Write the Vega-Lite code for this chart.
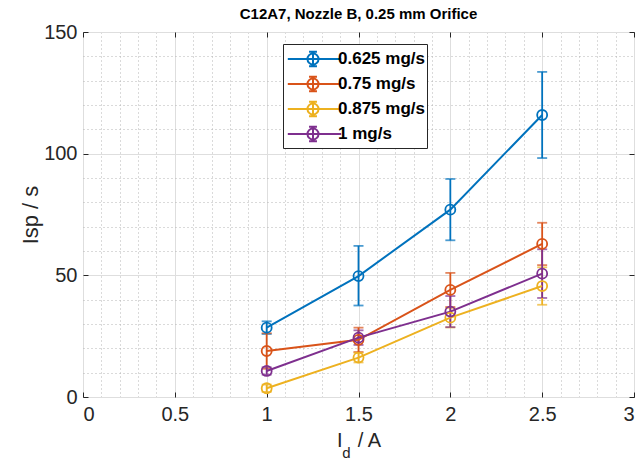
{
  "$schema": "https://vega.github.io/schema/vega-lite/v6.json",
  "width": 551,
  "height": 365,
  "autosize": {"type": "none"},
  "padding": {"left": 83, "top": 32, "right": 10, "bottom": 66},
  "background": "white",
  "title": {
    "text": "C12A7, Nozzle B, 0.25 mm Orifice",
    "font": "Liberation Sans",
    "fontSize": 15,
    "fontWeight": "bold",
    "color": "black",
    "anchor": "middle",
    "offset": 0
  },
  "config": {
    "view": {"stroke": "#262626", "strokeWidth": 1},
    "font": "Liberation Sans"
  },
  "data": {
    "values": [
      {"I": 1.0, "rate": "0.625 mg/s", "isp": 28.5, "lo": 25.9, "hi": 31.1},
      {"I": 1.5, "rate": "0.625 mg/s", "isp": 49.7, "lo": 37.6, "hi": 62.1},
      {"I": 2.0, "rate": "0.625 mg/s", "isp": 77.0, "lo": 64.4, "hi": 89.6},
      {"I": 2.5, "rate": "0.625 mg/s", "isp": 115.9, "lo": 98.2, "hi": 133.6},
      {"I": 1.0, "rate": "0.75 mg/s", "isp": 18.9, "lo": 11.6, "hi": 26.2},
      {"I": 1.5, "rate": "0.75 mg/s", "isp": 23.5, "lo": 18.5, "hi": 28.5},
      {"I": 2.0, "rate": "0.75 mg/s", "isp": 44.0, "lo": 37.0, "hi": 51.0},
      {"I": 2.5, "rate": "0.75 mg/s", "isp": 62.9, "lo": 54.2, "hi": 71.6},
      {"I": 1.0, "rate": "0.875 mg/s", "isp": 3.6, "lo": 2.1, "hi": 5.1},
      {"I": 1.5, "rate": "0.875 mg/s", "isp": 16.2, "lo": 14.2, "hi": 18.2},
      {"I": 2.0, "rate": "0.875 mg/s", "isp": 32.6, "lo": 28.6, "hi": 36.6},
      {"I": 2.5, "rate": "0.875 mg/s", "isp": 45.6, "lo": 37.9, "hi": 53.3},
      {"I": 1.0, "rate": "1 mg/s", "isp": 10.7, "lo": 9.2, "hi": 12.2},
      {"I": 1.5, "rate": "1 mg/s", "isp": 24.4, "lo": 21.4, "hi": 27.4},
      {"I": 2.0, "rate": "1 mg/s", "isp": 35.1, "lo": 28.7, "hi": 41.5},
      {"I": 2.5, "rate": "1 mg/s", "isp": 50.7, "lo": 40.7, "hi": 60.7}
    ]
  },
  "layer": [
    {
      "description": "minor grid",
      "mark": {"type": "point", "opacity": 0},
      "encoding": {
        "x": {
          "field": "I", "type": "quantitative",
          "scale": {"domain": [0, 3], "nice": false, "zero": false},
          "axis": {
            "orient": "bottom",
            "values": [0.1, 0.2, 0.3, 0.4, 0.6, 0.7, 0.8, 0.9, 1.1, 1.2, 1.3, 1.4, 1.6, 1.7, 1.8, 1.9, 2.1, 2.2, 2.3, 2.4, 2.6, 2.7, 2.8, 2.9],
            "grid": true, "gridColor": "#b5b5b5", "gridDash": [1, 3], "gridWidth": 1,
            "domain": false, "ticks": false, "labels": false, "title": null
          }
        },
        "y": {
          "field": "isp", "type": "quantitative",
          "scale": {"domain": [0, 150], "nice": false},
          "axis": {
            "orient": "left",
            "values": [10, 20, 30, 40, 60, 70, 80, 90, 110, 120, 130, 140],
            "grid": true, "gridColor": "#b5b5b5", "gridDash": [1, 3], "gridWidth": 1,
            "domain": false, "ticks": false, "labels": false, "title": null
          }
        }
      }
    },
    {
      "description": "major grid, ticks and labels",
      "mark": {"type": "point", "opacity": 0},
      "encoding": {
        "x": {
          "field": "I", "type": "quantitative",
          "axis": {
            "orient": "bottom",
            "values": [0, 0.5, 1, 1.5, 2, 2.5, 3],
            "format": "~g",
            "grid": true, "gridColor": "#dedede", "gridWidth": 1,
            "domain": false,
            "ticks": true, "tickSize": -5, "tickColor": "#262626", "tickWidth": 1,
            "labelFontSize": 20, "labelColor": "#262626", "labelPadding": 12,
            "title": "I\u2009\u00a0 / A", "titleFontSize": 20, "titleFontWeight": "normal",
            "titleColor": "#262626", "titlePadding": 6
          }
        },
        "y": {
          "field": "isp", "type": "quantitative",
          "axis": {
            "orient": "left",
            "values": [0, 50, 100, 150],
            "grid": true, "gridColor": "#dedede", "gridWidth": 1,
            "domain": false,
            "ticks": true, "tickSize": -5, "tickColor": "#262626", "tickWidth": 1,
            "labelFontSize": 20, "labelColor": "#262626", "labelPadding": 11,
            "title": "Isp / s", "titleFontSize": 22, "titleFontWeight": "normal",
            "titleColor": "#262626", "titlePadding": 1
          }
        }
      }
    },
    {
      "description": "ticks on the top and right edges of the box",
      "mark": {"type": "point", "opacity": 0},
      "encoding": {
        "x": {
          "field": "I", "type": "quantitative",
          "axis": {
            "orient": "top", "values": [0, 0.5, 1, 1.5, 2, 2.5, 3],
            "grid": false, "domain": false, "labels": false, "title": null,
            "ticks": true, "tickSize": -5, "tickColor": "#262626", "tickWidth": 1
          }
        },
        "y": {
          "field": "isp", "type": "quantitative",
          "axis": {
            "orient": "right", "values": [0, 50, 100, 150],
            "grid": false, "domain": false, "labels": false, "title": null,
            "ticks": true, "tickSize": -5, "tickColor": "#262626", "tickWidth": 1
          }
        }
      }
    },
    {
      "description": "subscript of the x title",
      "mark": {"type": "point", "opacity": 0},
      "encoding": {
        "x": {
          "field": "I", "type": "quantitative",
          "axis": {
            "orient": "bottom", "grid": false, "domain": false, "labels": false, "ticks": false,
            "title": "d", "titleFontSize": 15, "titleFontWeight": "normal", "titleColor": "#262626",
            "titleX": 263, "titleY": 60, "titleBaseline": "alphabetic", "titleAlign": "center"
          }
        },
        "y": {"field": "isp", "type": "quantitative", "axis": null}
      }
    },
    {
      "mark": {"type": "errorbar", "thickness": 1.8, "ticks": {"size": 10, "thickness": 1.8}},
      "encoding": {
        "x": {"field": "I", "type": "quantitative", "axis": null},
        "y": {"field": "lo", "type": "quantitative", "axis": null},
        "y2": {"field": "hi"},
        "color": {
          "field": "rate", "type": "nominal",
          "scale": {
            "domain": ["0.625 mg/s", "0.75 mg/s", "0.875 mg/s", "1 mg/s"],
            "range": ["#0072BD", "#D95319", "#EDB120", "#7E2F8E"]
          },
          "legend": {
            "orient": "none", "legendX": 200, "legendY": 12,
            "title": null,
            "symbolType": "M-0.85,0L3.6,0M1.25,-0.6L1.25,0.6M0.92,-0.6L1.58,-0.6M0.92,0.6L1.58,0.6M1.71,0A0.46,0.46,0,1,1,0.79,0A0.46,0.46,0,1,1,1.71,0",
            "symbolSize": 576, "symbolStrokeWidth": 2,
            "labelFont": "Liberation Sans", "labelFontSize": 17, "labelFontWeight": "bold",
            "labelColor": "black", "labelOffset": 27, "labelLimit": 200,
            "padding": 2, "rowPadding": 0,
            "strokeColor": "#262626", "fillColor": "white",
            "encode": {
              "symbols": {
                "update": {
                  "size": {"value": 576},
                  "fill": {"value": "transparent"},
                  "fillOpacity": {"value": 0},
                  "opacity": {"value": 1},
                  "strokeOpacity": {"value": 1},
                  "strokeWidth": {"value": 2}
                }
              }
            }
          }
        }
      }
    },
    {
      "mark": {"type": "line", "strokeWidth": 2},
      "encoding": {
        "x": {"field": "I", "type": "quantitative", "axis": null},
        "y": {"field": "isp", "type": "quantitative", "axis": null},
        "color": {"field": "rate", "type": "nominal"}
      }
    },
    {
      "mark": {"type": "point", "filled": false, "size": 100, "strokeWidth": 1.8, "opacity": 1},
      "encoding": {
        "x": {"field": "I", "type": "quantitative", "axis": null},
        "y": {"field": "isp", "type": "quantitative", "axis": null},
        "color": {"field": "rate", "type": "nominal"}
      }
    }
  ],
  "resolve": {"axis": {"x": "independent", "y": "independent"}}
}
